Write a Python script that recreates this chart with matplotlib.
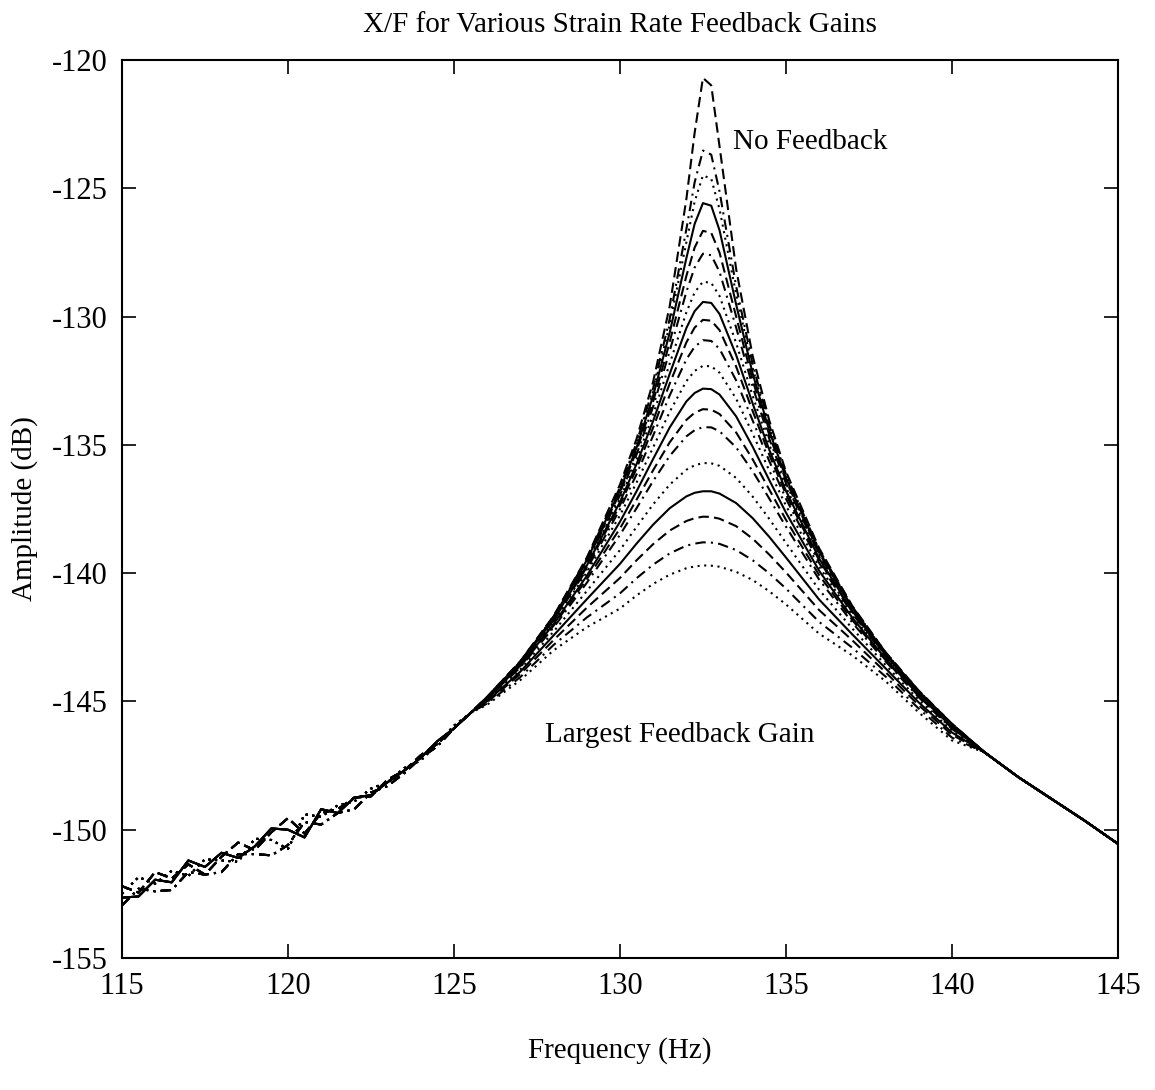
import matplotlib
matplotlib.use('Agg')
import matplotlib.pyplot as plt

plt.rcParams['font.family'] = ['Liberation Serif', 'DejaVu Serif']
plt.rcParams['axes.unicode_minus'] = False

# frequency grids (Hz)
freq_low = [115, 115.5, 116, 116.5, 117, 117.5, 118, 118.5, 119, 119.5, 120,
            120.5, 121, 121.5, 122, 122.5, 123, 123.5, 124, 124.5, 125, 125.5]
freq_mid = [126, 127, 128, 129, 130, 130.5, 131, 131.5, 132, 132.25, 132.5,
            132.75, 133, 133.5, 134, 134.5, 135, 136, 137, 138, 139, 140]
freq_high = [141, 142, 143, 144, 145]

# noisy low frequency part (dB), four measured variants
tail_a = [-152.2, -152.45, -151.65, -151.9, -151.35, -151.75, -151.05, -150.5, -150.8, -150.1, -149.55,
          -150.15, -149.35, -149.2, -148.75, -148.7, -148.05, -147.7, -147.1, -146.65, -146.05, -145.45]
tail_b = [-152.95, -152.3, -152.4, -152.35, -151.65, -151.75, -151.65, -150.95, -150.95, -151.0, -150.6,
          -149.7, -149.8, -149.35, -149.2, -148.55, -148.3, -147.8, -147.2, -146.75, -146.05, -145.45]
tail_c = [-152.5, -151.85, -152.1, -151.6, -151.8, -151.15, -151.2, -151.25, -150.35, -150.4, -150.75,
          -149.4, -149.5, -149.05, -148.9, -148.4, -148.15, -147.6, -147.3, -146.65, -145.95, -145.45]
tail_d = [-152.65, -152.6, -151.95, -152.05, -151.2, -151.45, -150.9, -151.1, -150.65, -149.95, -150.0,
          -150.3, -149.2, -149.35, -148.75, -148.65, -148.15, -147.7, -147.2, -146.55, -146.05, -145.45]
tail_high = [-147.0, -147.95, -148.8, -149.65, -150.55]

# resonance region, one array per feedback gain (no feedback first)
gain_01 = [-144.82, -143.43, -141.67, -139.40, -136.55, -134.77, -132.54, -129.59, -125.43, -122.84, -120.70,
           -120.99, -123.37, -128.15, -131.55, -134.06, -136.04, -139.03, -141.28, -143.08, -144.58, -145.87]
gain_02 = [-144.83, -143.44, -141.69, -139.44, -136.66, -134.92, -132.79, -130.08, -126.60, -124.77, -123.53,
           -123.69, -125.13, -128.82, -131.87, -134.24, -136.15, -139.09, -141.31, -143.09, -144.59, -145.88]
gain_03 = [-144.83, -143.45, -141.70, -139.47, -136.71, -135.00, -132.92, -130.31, -127.11, -125.52, -124.50,
           -124.63, -125.82, -129.13, -132.02, -134.33, -136.21, -139.12, -141.32, -143.10, -144.59, -145.88]
gain_04 = [-144.83, -143.46, -141.72, -139.50, -136.78, -135.11, -133.09, -130.62, -127.73, -126.39, -125.58,
           -125.68, -126.64, -129.53, -132.23, -134.46, -136.29, -139.16, -141.35, -143.12, -144.61, -145.88]
gain_05 = [-144.84, -143.47, -141.74, -139.54, -136.87, -135.24, -133.31, -130.99, -128.42, -127.31, -126.66,
           -126.74, -127.51, -130.00, -132.49, -134.62, -136.39, -139.22, -141.37, -143.13, -144.62, -145.90]
gain_06 = [-144.84, -143.48, -141.75, -139.59, -136.97, -135.38, -133.51, -131.34, -129.04, -128.09, -127.55,
           -127.61, -128.26, -130.43, -132.74, -134.77, -136.50, -139.27, -141.40, -143.14, -144.63, -145.91]
gain_07 = [-144.85, -143.49, -141.78, -139.66, -137.11, -135.58, -133.82, -131.83, -129.84, -129.06, -128.64,
           -128.69, -129.20, -131.03, -133.10, -135.00, -136.65, -139.35, -141.44, -143.17, -144.64, -145.92]
gain_08 = [-144.85, -143.51, -141.81, -139.71, -137.23, -135.75, -134.07, -132.23, -130.45, -129.79, -129.43,
           -129.47, -129.90, -131.50, -133.40, -135.20, -136.79, -139.43, -141.48, -143.19, -144.66, -145.93]
gain_09 = [-144.86, -143.52, -141.84, -139.77, -137.35, -135.92, -134.33, -132.61, -131.01, -130.43, -130.13,
           -130.16, -130.53, -131.95, -133.69, -135.39, -136.93, -139.50, -141.52, -143.21, -144.67, -145.94]
gain_10 = [-144.86, -143.54, -141.87, -139.85, -137.51, -136.15, -134.64, -133.07, -131.67, -131.18, -130.92,
           -130.95, -131.26, -132.49, -134.06, -135.64, -137.10, -139.60, -141.58, -143.24, -144.69, -145.95]
gain_11 = [-144.88, -143.57, -141.93, -139.97, -137.75, -136.47, -135.10, -133.71, -132.52, -132.12, -131.92,
           -131.94, -132.19, -133.20, -134.57, -136.01, -137.37, -139.75, -141.65, -143.29, -144.73, -145.98]
gain_12 = [-144.89, -143.60, -141.99, -140.11, -138.00, -136.81, -135.55, -134.32, -133.31, -132.98, -132.81,
           -132.83, -133.04, -133.89, -135.08, -136.38, -137.64, -139.91, -141.74, -143.34, -144.76, -146.00]
gain_13 = [-144.90, -143.63, -142.05, -140.24, -138.26, -137.14, -135.99, -134.90, -134.03, -133.75, -133.61,
           -133.63, -133.80, -134.52, -135.57, -136.75, -137.92, -140.08, -141.83, -143.39, -144.80, -146.04]
gain_14 = [-144.92, -143.67, -142.12, -140.38, -138.51, -137.47, -136.41, -135.43, -134.67, -134.43, -134.31,
           -134.32, -134.47, -135.10, -136.03, -137.10, -138.19, -140.25, -141.93, -143.44, -144.84, -146.07]
gain_15 = [-144.95, -143.75, -142.28, -140.70, -139.10, -138.20, -137.32, -136.55, -135.97, -135.80, -135.71,
           -135.72, -135.82, -136.29, -137.02, -137.89, -138.82, -140.65, -142.16, -143.58, -144.94, -146.14]
gain_16 = [-144.99, -143.84, -142.43, -141.02, -139.64, -138.85, -138.11, -137.47, -137.01, -136.87, -136.81,
           -136.81, -136.90, -137.27, -137.86, -138.59, -139.39, -141.03, -142.39, -143.71, -145.04, -146.21]
gain_17 = [-145.03, -143.93, -142.61, -141.35, -140.19, -139.50, -138.87, -138.34, -137.97, -137.86, -137.80,
           -137.81, -137.88, -138.17, -138.66, -139.28, -139.97, -141.44, -142.62, -143.86, -145.15, -146.30]
gain_18 = [-145.08, -144.05, -142.80, -141.73, -140.79, -140.20, -139.67, -139.23, -138.93, -138.85, -138.80,
           -138.81, -138.86, -139.10, -139.50, -140.01, -140.60, -141.90, -142.91, -144.03, -145.28, -146.41]
gain_19 = [-145.13, -144.17, -143.01, -142.11, -141.38, -140.87, -140.42, -140.06, -139.81, -139.74, -139.70,
           -139.71, -139.75, -139.95, -140.27, -140.71, -141.22, -142.36, -143.21, -144.21, -145.43, -146.52]

gains = [gain_01, gain_02, gain_03, gain_04, gain_05, gain_06, gain_07, gain_08, gain_09, gain_10,
         gain_11, gain_12, gain_13, gain_14, gain_15, gain_16, gain_17, gain_18, gain_19]
low_tails = [tail_a, tail_b, tail_c, tail_d]

styles = [(0, (5, 2.5)), (0, (5, 2.5, 1, 2.5)), (0, (1, 2.2)), '-']

fig = plt.figure(figsize=(11.55, 10.9), dpi=100)
ax = fig.add_axes([0.1056, 0.1211, 0.8623, 0.8239])

freq = freq_low + freq_mid + freq_high
for j in range(len(gains)):
    amp = low_tails[j % 4] + gains[j] + tail_high
    ax.plot(freq, amp, color='black', linestyle=styles[j % 4], linewidth=1.5)

ax.set_xlim(115, 145)
ax.set_ylim(-155, -120)
ax.set_xticks([115, 120, 125, 130, 135, 140, 145])
ax.set_yticks([-155, -150, -145, -140, -135, -130, -125, -120])
ax.tick_params(direction='in', length=10, width=1.2, top=True, right=True,
               labelsize=22, pad=10)
for s in ax.spines.values():
    s.set_linewidth(1.5)

ax.set_title('X/F for Various Strain Rate Feedback Gains', fontsize=21, pad=20)
ax.set_xlabel('Frequency (Hz)', fontsize=21, labelpad=26)
ax.set_ylabel('Amplitude (dB)', fontsize=21, labelpad=10)

ax.text(133.4, -123.2, 'No Feedback', fontsize=21, ha='left', va='center')
ax.text(127.75, -146.3, 'Largest Feedback Gain', fontsize=21, ha='left', va='center')

plt.savefig('out.png', dpi=100)
